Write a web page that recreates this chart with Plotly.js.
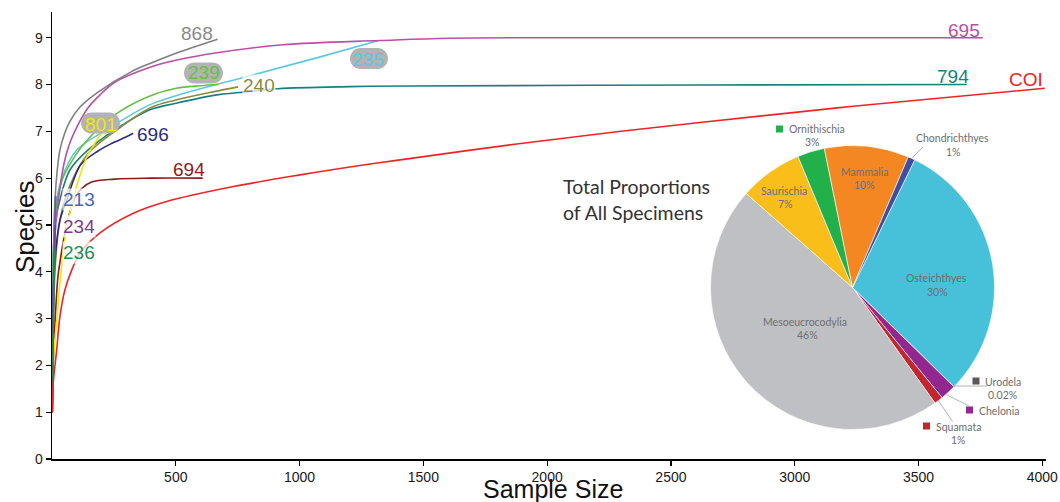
<!DOCTYPE html>
<html><head><meta charset="utf-8">
<script src="https://cdn.plot.ly/plotly-3.0.1.min.js"></script>
<style>html,body{margin:0;padding:0;background:#fff}#chart{width:1060px;height:502px}</style>
</head><body><div id="chart"></div>
<script>
// ---------- rarefaction curves (sample size, species) ----------
const x868 = [1, 4, 10, 20, 32, 52, 73, 113, 186, 319, 396, 501, 669];
const y868 = [1, 3.5, 5.3, 6.1, 6.6, 6.97, 7.22, 7.52, 7.84, 8.27, 8.45, 8.67, 8.97];
const x695 = [1, 5, 15, 40, 57, 77, 105, 145, 194, 254, 396, 501, 666, 933, 1325, 1607, 2200, 3760];
const y695 = [1, 3.5, 5.0, 6.07, 6.5, 6.82, 7.14, 7.5, 7.78, 8.05, 8.37, 8.52, 8.68, 8.85, 8.94, 8.99, 9, 9];
const x235 = [1, 5, 15, 40, 100, 226, 388, 501, 800, 1069, 1320];
const y235 = [1, 4, 5.4, 6.0, 6.6, 7.05, 7.55, 7.76, 8.19, 8.57, 8.94];
const x239 = [1, 5, 15, 40, 73, 132, 253, 388, 502, 600, 672];
const y239 = [1, 4, 5.3, 5.95, 6.3, 6.75, 7.35, 7.74, 7.92, 7.975, 8.0];
const x240 = [1, 5, 12, 32, 73, 145, 254, 396, 501, 666, 752];
const y240 = [1, 2.6, 4.0, 5.1, 5.85, 6.52, 7.0, 7.5, 7.67, 7.86, 7.95];
const x794 = [1, 4, 12, 32, 73, 145, 254, 396, 501, 666, 759, 913, 1204, 1446, 2617, 3695];
const y794 = [1, 3.8, 5.0, 5.54, 6.18, 6.6, 7.03, 7.46, 7.6, 7.78, 7.83, 7.91, 7.955, 7.97, 7.99, 8.0];
const x696 = [1, 4, 12, 32, 65, 85, 118, 186, 240, 307, 328];
const y696 = [1, 3.2, 4.26, 5.1, 5.61, 5.93, 6.3, 6.58, 6.74, 6.9, 6.96];
const x694 = [1, 6, 15, 24, 32, 52, 86, 120, 160, 253, 400, 609];
const y694 = [1, 2.2, 3.2, 3.9, 4.2, 4.82, 5.5, 5.78, 5.92, 5.98, 6.0, 6.0];
const x801 = [1, 5, 20, 32, 58, 85, 112, 145, 199];
const y801 = [1, 2.1, 3.0, 3.76, 4.9, 5.54, 6.05, 6.5, 6.95];
const x213 = [1, 4, 9, 15];
const y213 = [1, 3, 4.5, 5.62];
const x234 = [1, 4, 9, 14];
const y234 = [1, 2.8, 4.2, 5.0];
const x236 = [1, 4, 8, 13];
const y236 = [1, 2.4, 3.7, 4.5];
const xCOI = [1, 5, 19, 32, 52, 80, 113, 194, 329, 463, 733, 1002, 1244, 1392, 1877, 2281, 2617, 3225, 4010];
const yCOI = [1, 1.62, 2.33, 3.04, 3.61, 4.04, 4.4, 4.83, 5.25, 5.5, 5.82, 6.07, 6.27, 6.38, 6.73, 6.99, 7.19, 7.53, 7.92];

const xTicks = [500, 1000, 1500, 2000, 2500, 3000, 3500, 4000];
const yTicks = [0, 1, 2, 3, 4, 5, 6, 7, 8, 9];

// ---------- pie: total proportions of all specimens ----------
const pieLabels = ['Osteichthyes', 'Urodela', 'Chelonia', 'Squamata', 'Mesoeucrocodylia', 'Saurischia', 'Ornithischia', 'Mammalia', 'Chondrichthyes'];
const pieValues = [30.1, 0.02, 1.8, 1.0, 46.4, 7.2, 3.1, 9.6, 0.8];
const piePct = ['30%', '0.02%', '', '1%', '46%', '7%', '3%', '10%', '1%'];

// ---------- styling ----------
const pieColors = ['#47C1D9', '#595959', '#92278F', '#C1272D', '#BFC0C3', '#F9BE1A', '#22B04B', '#F58723', '#3E4FA3'];
const L = 52, R = 1046, T = 12, B = 459;
const px = v => (v - L) / (R - L);
const py = v => (B - v) / (B - T);

const series = [
  {x: x794, y: y794, c: '#17807F'},
  {x: x240, y: y240, c: '#8C8A3C'},
  {x: x235, y: y235, c: '#5CC8DF'},
  {x: x239, y: y239, c: '#6BBE45'},
  {x: x695, y: y695, c: '#BA4FA7'},
  {x: x868, y: y868, c: '#808080'},
  {x: x696, y: y696, c: '#2A2C7F'},
  {x: x694, y: y694, c: '#8A1C1C'},
  {x: x801, y: y801, c: '#F2E600'},
  {x: x213, y: y213, c: '#4868B4'},
  {x: x234, y: y234, c: '#7D3B8E'},
  {x: x236, y: y236, c: '#1C8E4F'},
  {x: xCOI, y: yCOI, c: '#EE2424'}
];

const traces = series.map(s => ({
  type: 'scatter', mode: 'lines', x: s.x, y: s.y,
  line: {color: s.c, width: 1.6, shape: 'spline', smoothing: 1},
  hoverinfo: 'skip', showlegend: false
}));

traces.push({
  type: 'pie', labels: pieLabels, values: pieValues, sort: false,
  direction: 'clockwise', rotation: 26,
  marker: {colors: pieColors, line: {color: '#ffffff', width: 0.6}},
  textinfo: 'none', hoverinfo: 'skip', showlegend: false,
  domain: {x: [px(710.5), px(994.5)], y: [py(429.5), py(145.5)]}
});

const numFont = 'Liberation Sans, Arial, sans-serif';
const annotations = [];
function lab(cx, cy, text, color, bg) {
  annotations.push({xref: 'paper', yref: 'paper', x: px(cx), y: py(cy), xanchor: 'center', yanchor: 'middle',
    text: text, showarrow: false, font: {family: numFont, size: 19, color: color},
    bgcolor: bg || 'rgba(0,0,0,0)', borderpad: 0});
}
const wbg = 'rgba(255,255,255,0.72)';
lab(197, 33, '868', '#8A8A8A');
lab(964, 30, '695', '#BA4FA7');
lab(368, 59, '235', '#5CC8DF');
lab(204, 72, '239', '#6BBE45');
lab(259, 85, '240', '#8C8A3C', wbg);
lab(953, 76, '794', '#17807F');
lab(1026, 79, 'COI', '#EE2424');
lab(153, 134, '696', '#2A2C7F', wbg);
lab(189, 169, '694', '#8A1C1C');
lab(101, 124, '801', '#F2E600');
lab(79, 199, '213', '#4868B4', wbg);
lab(79, 226, '234', '#7D3B8E', wbg);
lab(79, 252, '236', '#1C8E4F', wbg);

// axis titles
annotations.push({xref: 'paper', yref: 'paper', x: px(25), y: py(227), xanchor: 'center', yanchor: 'middle',
  text: 'Species', textangle: -90, showarrow: false, font: {family: numFont, size: 26, color: '#111'}});
annotations.push({xref: 'paper', yref: 'paper', x: px(553), y: py(488.5), xanchor: 'center', yanchor: 'middle',
  text: 'Sample Size', showarrow: false, font: {family: numFont, size: 25, color: '#111'}, borderpad: 0});

// pie labels
const pieFont = 'Lato, Noto Sans, sans-serif';
function plab(cx, cy, text, anchor) {
  annotations.push({xref: 'paper', yref: 'paper', x: px(cx), y: py(cy), xanchor: anchor || 'center', yanchor: 'middle',
    text: text, showarrow: false, font: {family: pieFont, size: 10.5, color: '#6E6E6E'}});
}
const ix = i => pieLabels[i];
plab(865, 172, ix(7)); plab(864, 185, piePct[7]);
plab(784, 191, ix(5)); plab(785, 204, piePct[5]);
plab(936, 278, ix(0)); plab(937, 292, piePct[0]);
plab(805, 322, ix(4)); plab(807, 335, piePct[4]);
plab(787, 129, ix(6), 'left'); plab(812, 142, piePct[6]);
plab(952, 138, ix(8)); plab(953, 152, piePct[8]);
plab(983, 382, ix(1), 'left'); plab(1002, 395, piePct[1]);
plab(977, 411, ix(2), 'left');
plab(934, 427, ix(3), 'left'); plab(958, 440, piePct[3]);

annotations.push({xref: 'paper', yref: 'paper', x: px(561), y: py(186), xanchor: 'left', yanchor: 'middle',
  text: 'Total Proportions', showarrow: false, font: {family: pieFont, size: 19.5, color: '#333333'}});
annotations.push({xref: 'paper', yref: 'paper', x: px(561), y: py(212), xanchor: 'left', yanchor: 'middle',
  text: 'of All Specimens', showarrow: false, font: {family: pieFont, size: 19.5, color: '#333333'}});

// shapes: label pills, legend squares, leader lines
const shapes = [];
function pill(x0, y0, x1, y1) {
  const r = (y1 - y0) / 2, k = 0.5523 * r, ym = (y0 + y1) / 2;
  const P = (a, b) => px(a) + ',' + py(b);
  const d = 'M' + P(x0 + r, y0) + ' L' + P(x1 - r, y0) +
    ' C' + P(x1 - r + k, y0) + ' ' + P(x1, ym - k) + ' ' + P(x1, ym) +
    ' C' + P(x1, ym + k) + ' ' + P(x1 - r + k, y1) + ' ' + P(x1 - r, y1) +
    ' L' + P(x0 + r, y1) +
    ' C' + P(x0 + r - k, y1) + ' ' + P(x0, ym + k) + ' ' + P(x0, ym) +
    ' C' + P(x0, ym - k) + ' ' + P(x0 + r - k, y0) + ' ' + P(x0 + r, y0) + ' Z';
  shapes.push({type: 'path', xref: 'paper', yref: 'paper', path: d, fillcolor: '#B3B3B3', line: {width: 0}, layer: 'above'});
}
pill(350, 48, 388, 69);
pill(184, 62.5, 223, 83.5);
pill(81, 112.5, 120, 133.5);

function sq(cx, cy, color) {
  shapes.push({type: 'rect', xref: 'paper', yref: 'paper', x0: px(cx - 3.5), x1: px(cx + 3.5), y0: py(cy + 3.5), y1: py(cy - 3.5),
    fillcolor: color, line: {width: 0}, layer: 'above'});
}
sq(779.5, 129, pieColors[6]);
sq(976, 381, pieColors[1]);
sq(969.5, 410, pieColors[2]);
sq(926.5, 426, pieColors[3]);

function lead(ax, ay, bx, by) {
  shapes.push({type: 'line', xref: 'paper', yref: 'paper', x0: px(ax), y0: py(ay), x1: px(bx), y1: py(by),
    line: {color: '#A0A0A0', width: 0.8}, layer: 'above'});
}
lead(911, 159, 923, 147);
lead(953, 386, 987, 386);
lead(946, 394.5, 970, 406.5);
lead(938, 400, 952.5, 421.5);

const axisFont = {family: numFont, size: 14, color: '#1a1a1a'};
const layout = {
  width: 1060, height: 502,
  margin: {l: L, r: 1060 - R, t: T, b: 502 - B},
  paper_bgcolor: '#ffffff', plot_bgcolor: '#ffffff',
  showlegend: false,
  xaxis: {
    range: [0, 4015], tickvals: xTicks, ticktext: xTicks.map(String),
    showgrid: false, zeroline: false, showline: true, linecolor: '#000', linewidth: 1.5,
    ticks: 'outside', ticklen: 5, tickwidth: 1.2, tickcolor: '#000', tickfont: axisFont,
    automargin: false, fixedrange: true
  },
  yaxis: {
    range: [0, 9.55], tickvals: yTicks, ticktext: yTicks.map(String),
    showgrid: false, zeroline: false, showline: true, linecolor: '#000', linewidth: 1.5,
    ticks: 'outside', ticklen: 5, tickwidth: 1.2, tickcolor: '#000', tickfont: axisFont,
    automargin: false, fixedrange: true
  },
  annotations: annotations,
  shapes: shapes
};

Plotly.newPlot('chart', traces, layout, {staticPlot: true, displayModeBar: false});
</script></body></html>
